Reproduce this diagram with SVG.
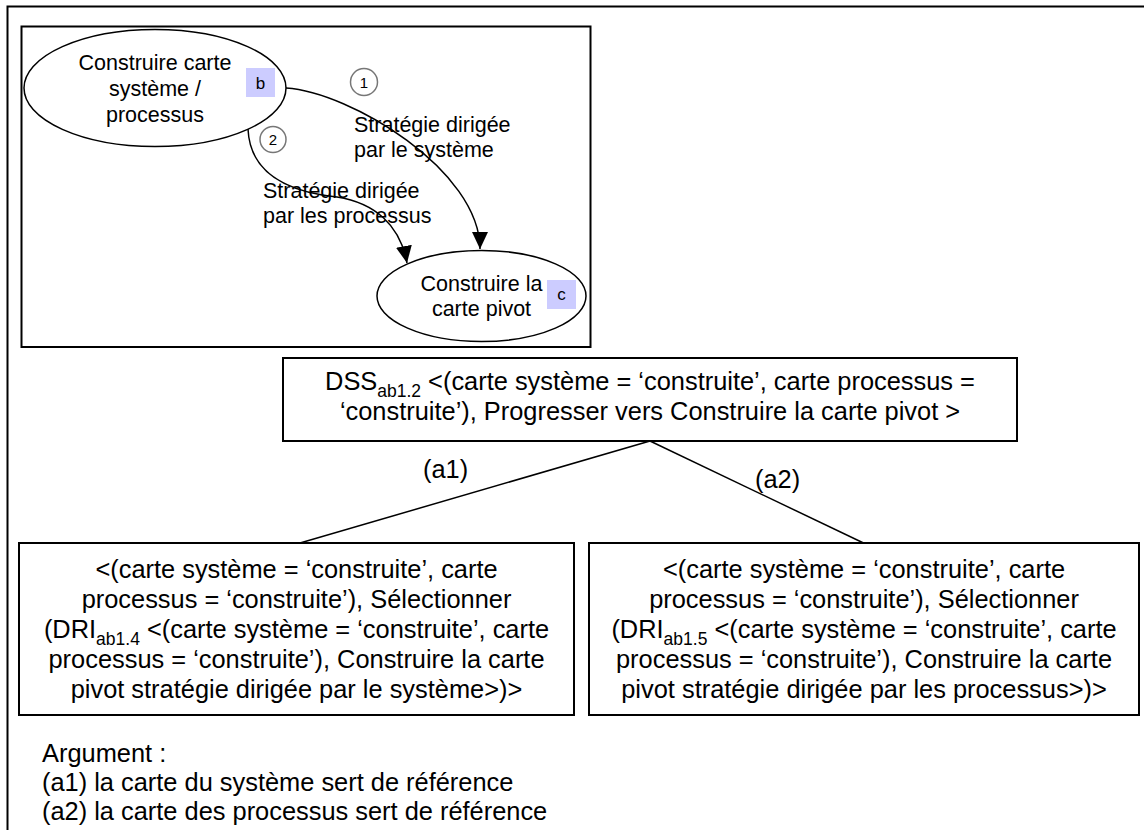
<svg xmlns="http://www.w3.org/2000/svg" width="1144" height="830" viewBox="0 0 1144 830">
<defs>
<marker id="ah" markerUnits="userSpaceOnUse" viewBox="0 0 17 16" refX="17" refY="8" markerWidth="17" markerHeight="16" orient="auto">
<path d="M0,0 L17,8 L0,16 z" fill="#000"/>
</marker>
<style>
text{font-family:"Liberation Sans",Arial,Helvetica,sans-serif;fill:#000}
.t21{font-size:21.5px}
.t25{font-size:25.4px}
.sub{font-size:17.5px}
.mid{text-anchor:middle}
.box{fill:#fff;stroke:#000;stroke-width:2}
.ell{fill:#fff;stroke:#000;stroke-width:1.5}
.tag{fill:#ccccff}
.num{fill:none;stroke:#777;stroke-width:1.5}
.conn{fill:none;stroke:#000;stroke-width:1.5}
.tree{fill:none;stroke:#000;stroke-width:1.5}
</style>
</defs>
<rect width="1144" height="830" fill="#fff"/>
<path d="M7.5,830 V6.5 H1144" fill="none" stroke="#000" stroke-width="2"/>

<g id="map-frame">
<rect x="21.5" y="26.5" width="569" height="320.5" class="box"/>
</g>

<g id="node-b">
<ellipse cx="155" cy="88" rx="131" ry="58.5" class="ell"/>
<text class="t21 mid" x="155" y="69.5">Construire carte</text>
<text class="t21 mid" x="155" y="95.5">système /</text>
<text class="t21 mid" x="155" y="121.5">processus</text>
<rect x="246" y="68" width="29" height="29" class="tag"/>
<text class="mid" x="260.5" y="89" font-size="17">b</text>
</g>

<g id="node-c">
<ellipse cx="481.5" cy="296" rx="104.5" ry="45.5" class="ell"/>
<text class="t21 mid" x="481.5" y="291">Construire la</text>
<text class="t21 mid" x="481.5" y="316">carte pivot</text>
<rect x="547" y="280" width="29" height="29" class="tag"/>
<text class="mid" x="561.5" y="300" font-size="17">c</text>
</g>

<g id="labels">
<circle cx="364" cy="82" r="13.5" class="num"/>
<text class="mid" x="364" y="87.5" font-size="15">1</text>
<circle cx="273" cy="139.5" r="13" class="num"/>
<text class="mid" x="273" y="145" font-size="15">2</text>
<text class="t21" x="354" y="132">Stratégie dirigée</text>
<text class="t21" x="354" y="157">par le système</text>
<text class="t21" x="263" y="198">Stratégie dirigée</text>
<text class="t21" x="263" y="223">par les processus</text>
</g>

<g id="connectors">
<path d="M286,88 C350,92 480,170 480,249" class="conn" marker-end="url(#ah)"/>
<path d="M248,129 C250,175 290,192 337,197 C375,203 400,225 407,263" class="conn" marker-end="url(#ah)"/>
<path d="M650,441 L300,543" class="tree"/>
<path d="M650,441 L863.5,543" class="tree"/>
<text class="t25" x="423" y="478">(a1)</text>
<text class="t25" x="755" y="488">(a2)</text>
</g>

<g id="node-dss">
<rect x="283" y="358" width="734" height="83" class="box"/>
<text class="t25 mid" x="650" y="390">DSS<tspan class="sub" dy="7">ab1.2</tspan><tspan dy="-7"> &lt;(carte système = ‘construite’, carte processus =</tspan></text>
<text class="t25 mid" x="650" y="420">‘construite’), Progresser vers Construire la carte pivot &gt;</text>
</g>

<g id="node-dri14">
<rect x="19" y="543" width="555" height="172" class="box"/>
<text class="t25 mid" x="296.5" y="578">&lt;(carte système = ‘construite’, carte</text>
<text class="t25 mid" x="296.5" y="608">processus = ‘construite’), Sélectionner</text>
<text class="t25 mid" x="296.5" y="638">(DRI<tspan class="sub" dy="7">ab1.4</tspan><tspan dy="-7"> &lt;(carte système = ‘construite’, carte</tspan></text>
<text class="t25 mid" x="296.5" y="668">processus = ‘construite’), Construire la carte</text>
<text class="t25 mid" x="296.5" y="698">pivot stratégie dirigée par le système&gt;)&gt;</text>
</g>

<g id="node-dri15">
<rect x="589" y="543" width="550" height="172" class="box"/>
<text class="t25 mid" x="864" y="578">&lt;(carte système = ‘construite’, carte</text>
<text class="t25 mid" x="864" y="608">processus = ‘construite’), Sélectionner</text>
<text class="t25 mid" x="864" y="638">(DRI<tspan class="sub" dy="7">ab1.5</tspan><tspan dy="-7"> &lt;(carte système = ‘construite’, carte</tspan></text>
<text class="t25 mid" x="864" y="668">processus = ‘construite’), Construire la carte</text>
<text class="t25 mid" x="864" y="698">pivot stratégie dirigée par les processus&gt;)&gt;</text>
</g>

<g id="arguments">
<text class="t25" x="42" y="762">Argument :</text>
<text class="t25" x="42" y="791">(a1) la carte du système sert de référence</text>
<text class="t25" x="42" y="820">(a2) la carte des processus sert de référence</text>
</g>
</svg>
